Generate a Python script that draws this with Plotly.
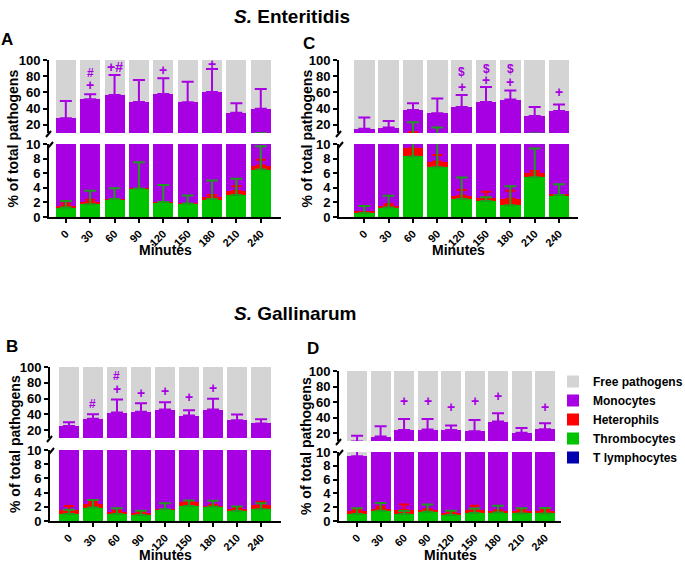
import plotly.graph_objects as go

W, H = 685, 562
FONT = "Liberation Sans, Arial, sans-serif"

minutes = ["0", "30", "60", "90", "120", "150", "180", "210", "240"]
t_lymphocytes = [0, 0, 0, 0, 0, 0, 0, 0, 0]

# ---------------- Panel A : S. Enteritidis ----------------
A_thromb = [1.3, 1.75, 2.45, 3.9, 2.05, 1.85, 2.45, 3.0, 6.5]
A_het = [0.25, 0.3, 0.05, 0.05, 0.05, 0.02, 0.25, 0.55, 0.55]
A_mono = [26.7, 49.6, 54.5, 44.4, 56.1, 46.0, 57.9, 31.3, 32.7]
A_thromb_sd = [0.9, 1.85, 1.5, 3.6, 2.35, 1.1, 2.55, 2.25, 3.2]
A_het_sd = [0.3, 0.3, None, None, None, None, 0.3, 0.65, 0.8]
A_mono_sd = [21.3, 6.1, 24.5, 27.1, 19.2, 25.4, 28.4, 11.9, 24.6]

# ---------------- Panel C : S. Enteritidis ----------------
C_thromb = [0.55, 1.3, 8.3, 6.8, 2.45, 2.2, 1.6, 5.45, 3.0]
C_het = [0.25, 0.2, 1.1, 0.8, 0.45, 0.35, 0.9, 0.55, 0.15]
C_mono = [14.3, 15.2, 29.1, 26.8, 39.3, 45.75, 48.7, 25.1, 33.85]
C_thromb_sd = [0.95, 1.6, 15.0, 9.9, 2.95, 0.5, 2.6, 3.95, 1.5]
C_het_sd = [None, 0.25, 1.6, 0.9, 0.8, 0.9, 1.1, 0.3, None]
C_mono_sd = [13.9, 8.2, 8.2, 18.0, 14.7, 18.5, 11.1, 11.0, 8.0]

# ---------------- Panel B : S. Gallinarum ----------------
B_thromb = [1.0, 1.9, 1.0, 0.85, 1.65, 2.1, 2.0, 1.4, 1.65]
B_het = [0.55, 0.5, 0.27, 0.28, 0.02, 0.55, 0.17, 0.3, 0.55]
B_mono = [23.55, 31.9, 41.03, 42.07, 44.43, 35.85, 43.93, 30.9, 26.2]
B_thromb_sd = [0.6, 1.05, 0.8, 0.6, 0.85, 0.8, 0.85, 0.65, 0.85]
B_het_sd = [0.55, 0.3, 0.18, 0.17, None, 0.15, 0.13, 0.15, 0.5]
B_mono_sd = [5.0, 5.9, 16.4, 10.9, 9.3, 6.8, 13.5, 7.2, 5.5]

# ---------------- Panel D : S. Gallinarum ----------------
D_thromb = [1.0, 1.5, 1.0, 1.35, 0.87, 1.17, 1.25, 1.1, 1.1]
D_het = [0.45, 0.3, 0.6, 0.2, 0.25, 0.48, 0.15, 0.35, 0.3]
D_mono = [7.95, 13.9, 22.7, 23.15, 23.18, 20.95, 33.6, 19.05, 23.8]
D_thromb_sd = [0.85, 1.1, 0.45, 1.05, 0.63, 0.63, 0.95, 0.75, 0.8]
D_het_sd = [0.25, 0.3, 0.8, 0.15, 0.18, 0.55, 0.15, 0.15, 0.25]
D_mono_sd = [7.2, 13.3, 14.1, 13.7, 5.5, 14.5, 10.7, 6.3, 7.7]

# significance symbols (bar index, symbol)
A_sig = [(1, "+"), (1, "#"), (2, "+#"), (4, "+"), (6, "+")]
C_sig = [(4, "+"), (4, "$"), (5, "+"), (5, "$"), (6, "+"), (6, "$"), (8, "+")]
B_sig = [(1, "#"), (2, "+"), (2, "#"), (3, "+"), (4, "+"), (5, "+"), (6, "+")]
D_sig = [(2, "+"), (3, "+"), (4, "+"), (5, "+"), (6, "+"), (8, "+")]

# ---------------- styling / layout positions ----------------
GREY = "#D4D4D4"
PURPLE = "#A700E2"
RED = "#FF0000"
GREEN = "#00C400"
BLUE = "#0000B0"
GREEN_ERR = "#1E9A1E"

# label heights (layout positions for the significance symbols)
sig_y = {
    "A": [68.8, 83.5, 91.8, 87.7, 94.7],
    "C": [66.4, 85.5, 75.4, 89.5, 72.5, 89.5, 60.6],
    "B": [53.7, 72, 88.5, 67, 69, 62, 74],
    "D": [61, 61, 54, 61, 68, 53.5],
}

panels = [
    dict(key="A", d=(A_thromb, A_het, A_mono, A_thromb_sd, A_het_sd, A_mono_sd), sig=A_sig,
         xd=(49, 281), xr=(-0.69, 8.83), top=(60, 133), bot=(144, 217), width=0.82,
         letter=(7, 40), ytx=12, miny=250),
    dict(key="C", d=(C_thromb, C_het, C_mono, C_thromb_sd, C_het_sd, C_mono_sd), sig=C_sig,
         xd=(339, 578), xr=(-1.04, 8.78), top=(60, 133), bot=(144, 217), width=0.84,
         letter=(309, 44), ytx=306, miny=250),
    dict(key="B", d=(B_thromb, B_het, B_mono, B_thromb_sd, B_het_sd, B_mono_sd), sig=B_sig,
         xd=(50, 281), xr=(-0.79, 8.83), top=(367, 438), bot=(450, 521), width=0.83,
         letter=(12, 346), ytx=15, miny=555),
    dict(key="D", d=(D_thromb, D_het, D_mono, D_thromb_sd, D_het_sd, D_mono_sd), sig=D_sig,
         xd=(339, 561), xr=(-0.77, 8.68), top=(371, 441), bot=(452, 521), width=0.85,
         letter=(313, 348), ytx=306, miny=555),
]


def fx(px):
    return px / W


def fy(py):
    return 1 - py / H


fig = go.Figure()
layout = dict(
    width=W, height=H, autosize=False,
    margin=dict(l=0, r=0, t=0, b=0, autoexpand=False),
    paper_bgcolor="white", plot_bgcolor="white",
    barmode="stack", bargap=0,
    font=dict(family=FONT, color="black"),
    showlegend=True,
    legend=dict(x=fx(553), y=fy(367), xanchor="left", yanchor="top",
                traceorder="reversed", bgcolor="rgba(0,0,0,0)",
                font=dict(family=FONT, size=12, weight="bold", color="black"),
                itemclick=False),
)
annotations = []
shapes = []

y_font = dict(family=FONT, size=13, weight="bold", color="black")
x_font = dict(family=FONT, size=11, weight="bold", color="black")

for pi, p in enumerate(panels):
    thromb, het, mono, thromb_sd, het_sd, mono_sd = p["d"]
    red_top = [a + b for a, b in zip(thromb, het)]
    total = [a + b for a, b in zip(red_top, mono)]
    free = [100 - t for t in total]
    top_n = 2 * pi + 1
    bot_n = 2 * pi + 2
    for sub_n, is_top in ((top_n, True), (bot_n, False)):
        xa = "x" if sub_n == 1 else f"x{sub_n}"
        ya = "y" if sub_n == 1 else f"y{sub_n}"
        show = (pi == 0 and not is_top)
        series = [
            ("T lymphocytes", t_lymphocytes, BLUE),
            ("Thrombocytes", thromb, GREEN),
            ("Heterophils", het, RED),
            ("Monocytes", mono, PURPLE),
            ("Free pathogens", free, GREY),
        ]
        for name, vals, col in series:
            fig.add_trace(go.Bar(
                x=minutes, y=vals, name=name, width=p["width"],
                marker=dict(color=col, line=dict(width=0)),
                xaxis=xa, yaxis=ya, showlegend=show, hoverinfo="skip",
            ))
        # error bars: monocytes (purple), heterophils (red), thrombocytes (green)
        for base, sd, col, cw in ((total, mono_sd, PURPLE, 6),
                                  (red_top, het_sd, RED, 5),
                                  (thromb, thromb_sd, GREEN_ERR, 6)):
            xs = [m for m, s in zip(minutes, sd) if s is not None]
            ys = [b for b, s in zip(base, sd) if s is not None]
            es = [s for s in sd if s is not None]
            fig.add_trace(go.Scatter(
                x=xs, y=ys, mode="markers",
                marker=dict(size=1, color="rgba(0,0,0,0)"),
                error_y=dict(type="data", symmetric=False, array=es,
                             arrayminus=[0] * len(es), color=col,
                             thickness=2, width=cw),
                xaxis=xa, yaxis=ya, showlegend=False, hoverinfo="skip",
            ))

        xkey = "xaxis" if sub_n == 1 else f"xaxis{sub_n}"
        ykey = "yaxis" if sub_n == 1 else f"yaxis{sub_n}"
        ydom = p["top"] if is_top else p["bot"]
        layout[xkey] = dict(
            domain=[fx(p["xd"][0]), fx(p["xd"][1])], anchor=ya,
            range=list(p["xr"]), type="category",
            showgrid=False, zeroline=False, fixedrange=True,
        )
        if is_top:
            layout[xkey].update(showline=False, showticklabels=False, ticks="")
        else:
            layout[xkey].update(
                showline=True, linecolor="black", linewidth=2,
                ticks="outside", ticklen=4, tickwidth=2, tickcolor="black",
                tickangle=-45, tickfont=x_font,
            )
        layout[ykey] = dict(
            domain=[fy(ydom[1]), fy(ydom[0])], anchor=xa,
            range=[10, 100] if is_top else [0, 10],
            tickvals=[20, 40, 60, 80, 100] if is_top else [0, 2, 4, 6, 8, 10],
            showline=True, linecolor="black", linewidth=2,
            ticks="outside", ticklen=4, tickwidth=2, tickcolor="black",
            tickfont=y_font, showgrid=False, zeroline=False, fixedrange=True,
        )

    # significance symbols (category axis: position by bar index)
    ya_top = "y" if top_n == 1 else f"y{top_n}"
    xa_top = "x" if top_n == 1 else f"x{top_n}"
    for (idx, sym), yv in zip(p["sig"], sig_y[p["key"]]):
        annotations.append(dict(
            x=idx, y=yv, xref=xa_top, yref=ya_top, text=sym,
            showarrow=False, xanchor="center", yanchor="middle",
            font=dict(family=FONT, size=14 if "+" in sym else 12,
                      weight="bold", color=PURPLE),
        ))

    # panel letter
    annotations.append(dict(
        x=fx(p["letter"][0]), y=fy(p["letter"][1]), xref="paper", yref="paper",
        text=p["key"], showarrow=False, xanchor="center", yanchor="middle",
        font=dict(family=FONT, size=17, weight="bold", color="black"),
    ))
    # y-axis title
    annotations.append(dict(
        x=fx(p["ytx"]), y=fy((p["top"][0] + p["bot"][1]) / 2), xref="paper", yref="paper",
        text="% of total pathogens", textangle=-90, showarrow=False,
        xanchor="center", yanchor="middle",
        font=dict(family=FONT, size=14, weight="bold", color="black"),
    ))
    # x-axis title
    annotations.append(dict(
        x=fx((p["xd"][0] + p["xd"][1]) / 2), y=fy(p["miny"]), xref="paper", yref="paper",
        text="Minutes", showarrow=False, xanchor="center", yanchor="middle",
        font=dict(family=FONT, size=14, weight="bold", color="black"),
    ))
    # axis break marks
    ax = p["xd"][0]
    yb = p["top"][1]
    yt = p["bot"][0]
    for (x0, y0, x1, y1) in ((ax - 3, yb + 4, ax + 2, yb - 2),
                             (ax - 1, yt + 4, ax + 4, yt - 2)):
        shapes.append(dict(type="line", xref="paper", yref="paper",
                           x0=fx(x0), y0=fy(y0), x1=fx(x1), y1=fy(y1),
                           line=dict(color="black", width=2)))

# group titles
for txt, cx, cy in (("<i>S.</i> Enteritidis", 292, 17), ("<i>S.</i> Gallinarum", 295, 313)):
    annotations.append(dict(
        x=fx(cx), y=fy(cy), xref="paper", yref="paper", text=txt, showarrow=False,
        xanchor="center", yanchor="middle",
        font=dict(family=FONT, size=19, weight="bold", color="black"),
    ))

layout["annotations"] = annotations
layout["shapes"] = shapes
fig.update_layout(**layout)
fig.write_html("out.html", config={"displayModeBar": False},
               post_script="document.body.style.margin='0px';")
